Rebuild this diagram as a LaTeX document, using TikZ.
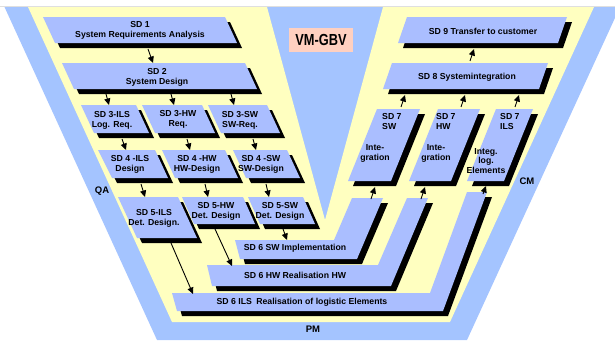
\documentclass[tikz,border=0pt]{standalone}
\usepackage{fontspec}
\setmainfont{Liberation Sans}
\usetikzlibrary{arrows.meta}
\definecolor{bgblue}{RGB}{164,196,255}
\definecolor{boxblue}{RGB}{170,190,255}
\definecolor{vyellow}{RGB}{255,255,192}
\definecolor{vpink}{RGB}{255,208,192}
\newcommand\vmquad[8]{%
  \fill[shadowpart] (#1,#2) -- (#3,#4) -- (#5,#6) -- (#7,#8) -- cycle;
  \fill[boxpart] (#1,#2) -- (#3,#4) -- (#5,#6) -- (#7,#8) -- cycle;}
\begin{document}
\begin{tikzpicture}[x=1pt,y=-1pt,
  shadowpart/.style={fill=black, shift={(5,5)}},
  boxpart/.style={fill=boxblue},
  lbl/.style={font=\bfseries\fontsize{8.7}{9.8}\selectfont, align=center, inner sep=0pt},
  lbll/.style={lbl, align=left, anchor=west},
  side/.style={font=\bfseries\fontsize{9.5}{11}\selectfont, inner sep=0pt},
  flow/.style={-{Triangle[length=6.5pt,width=6pt]}, line width=0.9pt}]
\useasboundingbox (0,0) rectangle (615,340);
\begin{scope}
\clip (0,0) rectangle (615,340);
\fill[white] (0,0) rectangle (615,340);
\draw[gray!25, line width=0.6pt] (0,6) -- (615,6);
\fill[bgblue] (4.5,7) -- (620,7) -- (467,340) -- (157,340) -- cycle;
\fill[vyellow] (28,7) -- (267,7) -- (325,220) -- (383,7) -- (594,7) -- (450,322) -- (172,322) -- cycle;
\end{scope}

% left side boxes
\vmquad{43}{17}{225}{17}{237}{43}{55}{43}
\vmquad{62}{63}{245}{63}{257}{89}{74}{89}
\vmquad{81}{105}{136}{105}{149}{133}{94}{133}
\vmquad{142}{105}{202}{105}{215}{133}{155}{133}
\vmquad{208}{105}{267}{105}{280}{133}{221}{133}
\vmquad{98}{150}{155}{150}{168}{178}{112}{178}
\vmquad{162}{150}{225}{150}{238}{178}{175}{178}
\vmquad{233}{150}{287}{150}{300}{178}{246}{178}
\vmquad{118}{197}{178}{197}{197}{238}{137}{238}
\vmquad{182}{197}{243}{197}{255}{224}{194}{224}
\vmquad{248}{197}{303}{197}{315}{224}{260}{224}

% right side boxes
\vmquad{407}{17}{567}{17}{558}{43}{398}{43}
\vmquad{392}{63}{548}{63}{539}{89}{383}{89}
\vmquad{377}{109}{420}{109}{391}{181}{348}{181}
\vmquad{438}{109}{480}{109}{451}{181}{409}{181}
\vmquad{496}{109}{533}{109}{504}{181}{467}{181}

% SD 6 shapes
\fill[shadowpart] (172,293) -- (430,293) -- (467,192) -- (487,192) -- (443,311) -- (177,311) -- cycle;
\fill[boxpart] (172,293) -- (430,293) -- (467,192) -- (487,192) -- (443,311) -- (177,311) -- cycle;
\fill[shadowpart] (207,265) -- (378,265) -- (407,198) -- (428,198) -- (391,286) -- (212,286) -- cycle;
\fill[boxpart] (207,265) -- (378,265) -- (407,198) -- (428,198) -- (391,286) -- (212,286) -- cycle;
\fill[shadowpart] (235,240) -- (334,240) -- (352,198) -- (383,198) -- (357,259) -- (240,259) -- cycle;
\fill[boxpart] (235,240) -- (334,240) -- (352,198) -- (383,198) -- (357,259) -- (240,259) -- cycle;

% labels
\node[lbl] (sd1) at (140,30) {SD 1\\System Requirements Analysis};
\node[lbl] (sd2) at (157,77) {SD 2\\System Design};
\node[lbl] (sd3i) at (112,120) {SD 3-ILS\\Log. Req.};
\node[lbl] (sd3h) at (178,119.5) {SD 3-HW\\Req.};
\node[lbl] (sd3s) at (240,120) {SD 3-SW\\SW-Req.};
\node[lbl] (sd4i) at (130,164.5) {SD 4 -ILS\\Design};
\node[lbl] (sd4h) at (197,164.5) {SD 4 -HW\\HW-Design};
\node[lbl] (sd4s) at (261,164.5) {SD 4 -SW\\SW-Design};
\node[lbl] (sd5i) at (154,218) {SD 5-ILS\\Det. Design.};
\node[lbl] (sd5h) at (216,211.5) {SD 5-HW\\Det. Design};
\node[lbl] (sd5s) at (280,211.5) {SD 5-SW\\Det. Design};
\node[lbl] (sd6s) at (295,248) {SD 6 SW Implementation};
\node[lbl] (sd6h) at (295,275) {SD 6 HW Realisation HW};
\node[lbl] (sd6i) at (302,302) {SD 6 ILS\enspace Realisation of logistic Elements};
\node[lbll] (sd7s) at (382,121.5) {SD 7\\SW};
\node[lbl] (sd7sb) at (375,153.5) {Inte-\\gration};
\node[lbll] (sd7h) at (436,121.5) {SD 7\\HW};
\node[lbl] (sd7hb) at (436,153.5) {Inte-\\gration};
\node[lbll] (sd7i) at (500,121.5) {SD 7\\ILS};
\node[lbl] (sd7ib) at (486,161) {Integ.\\log.\\Elements};
\node[lbl] (sd8) at (467,77) {SD 8 Systemintegration};
\node[lbl] (sd9) at (483,31) {SD 9 Transfer to customer};
\node[side] (qa) at (102,191) {QA};
\node[side] (cm) at (527,181) {CM};
\node[side] (pm) at (313,329) {PM};
\node[fill=vpink, minimum width=64pt, minimum height=24pt, inner sep=0pt,
  font=\bfseries\fontsize{16}{18}\selectfont] (vm) at (321,40) {\scalebox{0.8}[1]{VM-GBV}};

% arrow end points
\coordinate (a1s) at (148,49);  \coordinate (a1e) at (153,63);
\coordinate (a2s) at (106,94);  \coordinate (a2e) at (109,105);
\coordinate (a3s) at (171,94);  \coordinate (a3e) at (174,105);
\coordinate (a4s) at (231,94);  \coordinate (a4e) at (234,105);
\coordinate (b1s) at (122,139); \coordinate (b1e) at (126,150);
\coordinate (b2s) at (187,139); \coordinate (b2e) at (190,150);
\coordinate (b3s) at (253,139); \coordinate (b3e) at (256,150);
\coordinate (c1s) at (141,184); \coordinate (c1e) at (145,197);
\coordinate (c2s) at (205,184); \coordinate (c2e) at (208,197);
\coordinate (c3s) at (266,184); \coordinate (c3e) at (269,197);
\coordinate (d1s) at (283,229); \coordinate (d1e) at (287,240);
\coordinate (d2s) at (215,229); \coordinate (d2e) at (232,266);
\coordinate (d3s) at (171,243); \coordinate (d3e) at (193,294);
\coordinate (e1s) at (371,199); \coordinate (e1e) at (375,187);
\coordinate (e2s) at (421,199); \coordinate (e2e) at (425,187);
\coordinate (e3s) at (483,194); \coordinate (e3e) at (486,186);
\coordinate (f1s) at (401,107); \coordinate (f1e) at (405,95);
\coordinate (f2s) at (461,107); \coordinate (f2e) at (465,95);
\coordinate (f3s) at (515,107); \coordinate (f3e) at (519,95);
\coordinate (g1s) at (470,61);  \coordinate (g1e) at (474,49);
\foreach \n in {a1,a2,a3,a4,b1,b2,b3,c1,c2,c3,d1,d2,d3,e1,e2,e3,f1,f2,f3,g1}
  \draw[flow] (\n s) -- (\n e);
\end{tikzpicture}
\end{document}
